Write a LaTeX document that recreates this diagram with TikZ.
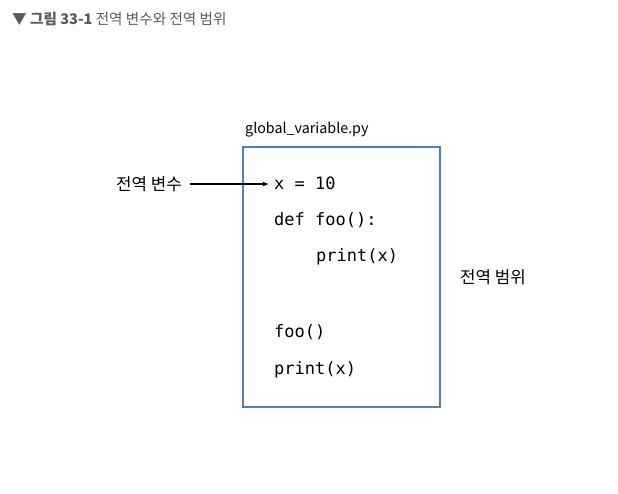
\documentclass[tikz,border=0pt]{standalone}
\usepackage{fontspec}
\setmainfont{Noto Sans CJK KR}
\newfontfamily\kr{Noto Sans CJK KR}
\newfontfamily\codefont{DejaVu Sans Mono}
\usetikzlibrary{arrows.meta}
\definecolor{boxblue}{HTML}{4F81BD}
\definecolor{titlegray}{HTML}{5A5A5A}
\tikzset{
  code/.style={anchor=west, inner sep=0pt, font=\codefont\fontsize{17}{20}\selectfont},
  lbl/.style={inner sep=0pt, font=\kr\fontsize{16.8}{19}\selectfont},
  filebox/.style={draw=boxblue, line width=2pt},
  pointer/.style={-{Latex[length=6pt,width=5pt]}, line width=1.2pt}
}
\begin{document}
\begin{tikzpicture}[x=1pt,y=-1pt]
\useasboundingbox (0,0) rectangle (618,493);
\node[anchor=west, inner sep=0pt, text=titlegray, font=\kr\fontsize{14.6}{17}\selectfont] (title) at (12,19) {▼ \textbf{그림 33-1} 전역 변수와 전역 범위};
\node[anchor=west, inner sep=0pt, font=\kr\fontsize{14.3}{17}\selectfont] (fname) at (245,130) {global\_variable.py};
\draw[filebox] (243,147) rectangle (440,407);
\node[code] (l1) at (274,183) {x = 10};
\node[code] (l2) at (274,220) {def foo():};
\node[code] (l3) at (316,257) {print(x)};
\node[code] (l4) at (274,332) {foo()};
\node[code] (l5) at (274,370) {print(x)};
\node[lbl, anchor=east] (gv) at (182,184) {전역 변수};
\node[lbl, anchor=west] (gs) at (460,277) {전역 범위};
\draw[pointer] (gv.east) ++(8,0) coordinate (as) -- ([xshift=-5pt]l1.west |- as);
\end{tikzpicture}
\end{document}
